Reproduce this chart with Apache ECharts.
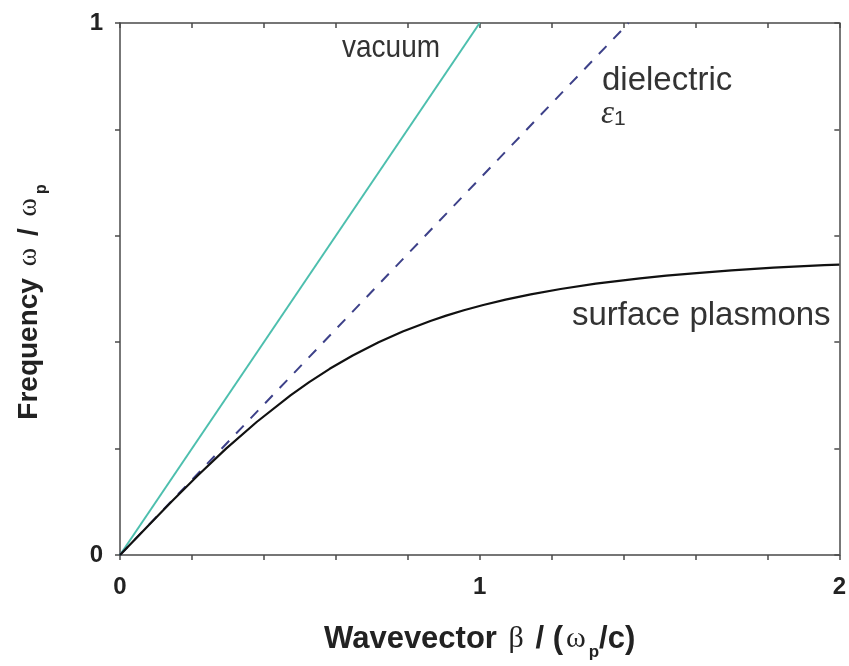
<!DOCTYPE html>
<html>
<head>
<meta charset="utf-8">
<script src="https://cdn.jsdelivr.net/npm/echarts@6/dist/echarts.min.js"></script>
<style>
html, body { margin: 0; padding: 0; background: #fff; }
#chart { width: 849px; height: 666px; }
</style>
</head>
<body>
<div id="chart"></div>
<script>
// light line in vacuum
const vacuumBeta = [0, 1];
const vacuumOmega = [0, 1];
// light line in the dielectric (eps1 ~ 2)
const dielectricBeta = [0, 1.414];
const dielectricOmega = [0, 1];
// surface plasmon branch
const plasmonBeta = [0, 0.071, 0.143, 0.217, 0.295, 0.380, 0.474, 0.526, 0.583, 0.647, 0.719, 0.786, 0.863, 0.907, 0.956, 1.010, 1.072, 1.142, 1.225, 1.323, 1.446, 1.519, 1.603, 1.700, 1.817, 1.958, 2.0];
const plasmonOmega = [0, 0.05, 0.10, 0.15, 0.20, 0.25, 0.30, 0.325, 0.35, 0.375, 0.40, 0.42, 0.44, 0.45, 0.46, 0.47, 0.48, 0.49, 0.50, 0.51, 0.52, 0.525, 0.53, 0.535, 0.54, 0.545, 0.546];
// labelled ticks
const xTickLabels = ['0', '1', '2'];
const yTickLabels = ['0', '1'];

const chart = echarts.init(document.getElementById('chart'));

const axisColor = '#4a4a4a';
const ink = '#222';
const sans = 'Liberation Sans, Arial, sans-serif';
const serif = 'Liberation Serif, DejaVu Serif, serif';

function pairs(xs, ys) {
  return xs.map((x, i) => [x, ys[i]]);
}

function tickLabel(list) {
  return function (v) {
    const r = Math.round(v);
    if (Math.abs(v - r) < 1e-6 && list.indexOf(String(r)) >= 0) return String(r);
    return '';
  };
}

function baseAxis(max) {
  return {
    type: 'value',
    min: 0,
    max: max,
    interval: 0.2,
    splitLine: { show: false },
    axisLine: { onZero: false, lineStyle: { color: axisColor, width: 1.5 } },
    axisTick: { length: 5, lineStyle: { color: axisColor, width: 1.5 } }
  };
}

const xTitleRich = {
  b: { fontFamily: sans, fontWeight: 'bold', fontSize: 31, color: ink, lineHeight: 44 },
  g: { fontFamily: serif, fontSize: 30, color: ink, lineHeight: 44, padding: [0, 3, 0, 3] },
  sub: { fontFamily: sans, fontWeight: 'bold', fontSize: 17, color: ink, lineHeight: 8, verticalAlign: 'bottom' }
};
const yTitleRich = {
  b: { fontFamily: sans, fontWeight: 'bold', fontSize: 28, color: ink, lineHeight: 42 },
  g: { fontFamily: serif, fontSize: 28, color: ink, lineHeight: 42, padding: [0, 4, 0, 4] },
  sub: { fontFamily: sans, fontWeight: 'bold', fontSize: 16, color: ink, lineHeight: 10, verticalAlign: 'bottom' }
};

const option = {
  animation: false,
  backgroundColor: '#fff',
  grid: { left: 120, right: 7, top: 23, bottom: 109, containLabel: false },
  xAxis: [
    Object.assign(baseAxis(2), {
      position: 'bottom',
      axisLabel: {
        formatter: tickLabel(xTickLabels),
        fontFamily: sans, fontWeight: 'bold', fontSize: 24, color: ink, margin: 20
      },
      name: '{b|Wavevector }{g|β}{b| / (}{g|ω}{sub|p}{b|/c)}',
      nameLocation: 'middle',
      nameGap: 62,
      nameTextStyle: { rich: xTitleRich }
    }),
    Object.assign(baseAxis(2), {
      position: 'top',
      axisTick: { inside: true, length: 5, lineStyle: { color: axisColor, width: 1.5 } },
      axisLabel: { show: false }
    })
  ],
  yAxis: [
    Object.assign(baseAxis(1), {
      position: 'left',
      axisLabel: {
        formatter: tickLabel(yTickLabels),
        fontFamily: sans, fontWeight: 'bold', fontSize: 24, color: ink, margin: 17
      },
      name: '{b|Frequency }{g|ω}{b| / }{g|ω}{sub|p}',
      nameLocation: 'middle',
      nameRotate: 90,
      nameGap: 70,
      nameTextStyle: { rich: yTitleRich, padding: [0, 26, 0, 0] }
    }),
    Object.assign(baseAxis(1), {
      position: 'right',
      axisTick: { inside: true, length: 5, lineStyle: { color: axisColor, width: 1.5 } },
      axisLabel: { show: false }
    })
  ],
  series: [
    {
      name: 'vacuum',
      type: 'line',
      data: pairs(vacuumBeta, vacuumOmega),
      showSymbol: false,
      lineStyle: { color: '#4dbfae', width: 2 }
    },
    {
      name: 'dielectric',
      type: 'line',
      data: pairs(dielectricBeta, dielectricOmega),
      showSymbol: false,
      lineStyle: { color: '#3d4189', width: 2, type: [11, 10] }
    },
    {
      name: 'surface plasmons',
      type: 'line',
      data: pairs(plasmonBeta, plasmonOmega),
      showSymbol: false,
      smooth: false,
      lineStyle: { color: '#111', width: 2.2 }
    }
  ],
  graphic: [
    { type: 'text', left: 342, top: 32, scaleX: 0.875, style: { text: 'vacuum', fontFamily: sans, fontSize: 32, fill: '#333' } },
    { type: 'text', left: 602, top: 64, style: { text: 'dielectric', fontFamily: sans, fontSize: 33, fill: '#333' } },
    {
      type: 'text', left: 601, top: 98,
      style: {
        text: '{e|ε}{s|1}',
        rich: {
          e: { fontFamily: serif, fontStyle: 'italic', fontSize: 33, fill: '#333', lineHeight: 30 },
          s: { fontFamily: sans, fontSize: 21, fill: '#333', lineHeight: 22, verticalAlign: 'bottom' }
        }
      }
    },
    { type: 'text', left: 572, top: 299, style: { text: 'surface plasmons', fontFamily: sans, fontSize: 33, fill: '#333' } }
  ]
};

chart.setOption(option);
</script>
</body>
</html>
